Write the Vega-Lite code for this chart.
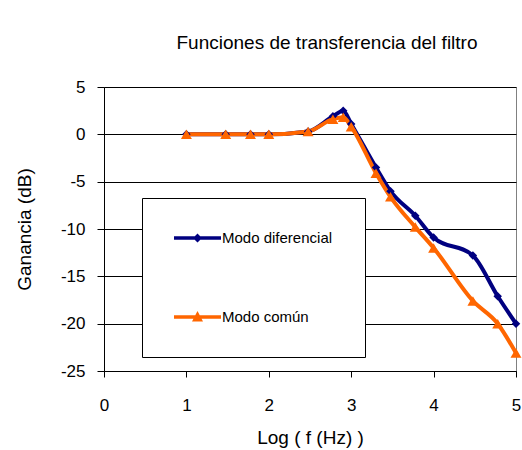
{
  "$schema": "https://vega.github.io/schema/vega-lite/v6.json",
  "width": 412,
  "height": 284,
  "autosize": "none",
  "padding": {"left": 104, "top": 87, "right": 6, "bottom": 79},
  "background": "white",
  "title": {
    "text": "Funciones de transferencia del filtro",
    "anchor": "middle",
    "frame": "group",
    "dx": 17,
    "offset": 25,
    "font": "Liberation Sans",
    "fontSize": 19,
    "fontWeight": "normal",
    "color": "black"
  },
  "config": {
    "font": "Liberation Sans",
    "view": {"stroke": "#808080", "strokeWidth": 1},
    "axis": {
      "domainColor": "black",
      "tickColor": "black",
      "labelColor": "black",
      "titleColor": "black",
      "labelFont": "Liberation Sans",
      "titleFont": "Liberation Sans",
      "labelFontSize": 17,
      "titleFontSize": 19,
      "titleFontWeight": "normal",
      "labelExpr": "'' + datum.value"
    }
  },
  "data": {
    "values": [
      {"logf": 1.0, "ganancia": 0.0, "modo": "Modo diferencial"},
      {"logf": 1.477, "ganancia": 0.0, "modo": "Modo diferencial"},
      {"logf": 1.778, "ganancia": 0.0, "modo": "Modo diferencial"},
      {"logf": 2.0, "ganancia": 0.0, "modo": "Modo diferencial"},
      {"logf": 2.477, "ganancia": 0.3, "modo": "Modo diferencial"},
      {"logf": 2.778, "ganancia": 1.9, "modo": "Modo diferencial"},
      {"logf": 2.903, "ganancia": 2.5, "modo": "Modo diferencial"},
      {"logf": 3.0, "ganancia": 1.1, "modo": "Modo diferencial"},
      {"logf": 3.301, "ganancia": -3.5, "modo": "Modo diferencial"},
      {"logf": 3.477, "ganancia": -6.0, "modo": "Modo diferencial"},
      {"logf": 3.778, "ganancia": -8.6, "modo": "Modo diferencial"},
      {"logf": 4.0, "ganancia": -10.9, "modo": "Modo diferencial"},
      {"logf": 4.477, "ganancia": -12.8, "modo": "Modo diferencial"},
      {"logf": 4.778, "ganancia": -17.1, "modo": "Modo diferencial"},
      {"logf": 5.0, "ganancia": -20.0, "modo": "Modo diferencial"},
      {"logf": 1.0, "ganancia": 0.0, "modo": "Modo común"},
      {"logf": 1.477, "ganancia": 0.0, "modo": "Modo común"},
      {"logf": 1.778, "ganancia": 0.0, "modo": "Modo común"},
      {"logf": 2.0, "ganancia": 0.0, "modo": "Modo común"},
      {"logf": 2.477, "ganancia": 0.3, "modo": "Modo común"},
      {"logf": 2.778, "ganancia": 1.6, "modo": "Modo común"},
      {"logf": 2.903, "ganancia": 1.8, "modo": "Modo común"},
      {"logf": 3.0, "ganancia": 0.8, "modo": "Modo común"},
      {"logf": 3.301, "ganancia": -4.1, "modo": "Modo común"},
      {"logf": 3.477, "ganancia": -6.6, "modo": "Modo común"},
      {"logf": 3.778, "ganancia": -9.8, "modo": "Modo común"},
      {"logf": 4.0, "ganancia": -12.0, "modo": "Modo común"},
      {"logf": 4.477, "ganancia": -17.6, "modo": "Modo común"},
      {"logf": 4.778, "ganancia": -20.0, "modo": "Modo común"},
      {"logf": 5.0, "ganancia": -23.1, "modo": "Modo común"}
    ]
  },
  "encoding": {
    "x": {
      "field": "logf",
      "type": "quantitative",
      "scale": {"domain": [0, 5], "nice": false, "zero": false},
      "axis": {
        "title": "Log ( f (Hz) )",
        "values": [0, 1, 2, 3, 4, 5],
        "grid": false,
        "tickSize": 6,
        "labelPadding": 20,
        "titlePadding": 15,
        "labelFlush": false
      }
    },
    "y": {
      "field": "ganancia",
      "type": "quantitative",
      "scale": {"domain": [-25, 5], "nice": false, "zero": false},
      "axis": {
        "title": "Ganancia (dB)",
        "values": [-25, -20, -15, -10, -5, 0, 5],
        "grid": true,
        "gridColor": "black",
        "gridOpacity": 1,
        "tickSize": 7,
        "labelPadding": 12,
        "titlePadding": 26,
        "labelFlush": false
      }
    }
  },
  "layer": [
    {
      "mark": {"type": "line", "strokeWidth": 4, "interpolate": "monotone"},
      "encoding": {
        "color": {
          "field": "modo",
          "type": "nominal",
          "scale": {"domain": ["Modo diferencial", "Modo común"], "range": ["#000080", "#FF6600"]},
          "legend": {
            "title": null,
            "orient": "none",
            "legendX": 38,
            "legendY": 111,
            "padding": 32,
            "rowPadding": 63,
            "strokeColor": "black",
            "fillColor": "white",
            "symbolSize": 256,
            "labelFont": "Liberation Sans",
            "labelFontSize": 15,
            "labelColor": "black",
            "labelOffset": 32,
            "encode": {
              "symbols": {
                "update": {
                  "shape": {"signal": "datum.value === 'Modo diferencial' ? 'M-1,-0.22H4.875V0.22H-1Z M1.9375,-0.5625L2.5,0L1.9375,0.5625L1.375,0Z' : 'M-1,-0.22H4.875V0.22H-1Z M1.9375,-0.75L2.625,0.5625H1.25Z'"},
                  "fill": {"signal": "scale('color', datum.value)"},
                  "fillOpacity": {"value": 1},
                  "strokeWidth": {"value": 0},
                  "opacity": {"value": 1}
                }
              }
            }
          }
        }
      }
    },
    {
      "transform": [{"filter": "datum.modo === 'Modo diferencial'"}],
      "mark": {"type": "point", "shape": "diamond", "filled": true, "opacity": 1, "size": 72, "color": "#000080"}
    },
    {
      "transform": [{"filter": "datum.modo === 'Modo común'"}],
      "mark": {"type": "point", "shape": "triangle-up", "filled": true, "opacity": 1, "size": 120, "color": "#FF6600"}
    }
  ]
}
